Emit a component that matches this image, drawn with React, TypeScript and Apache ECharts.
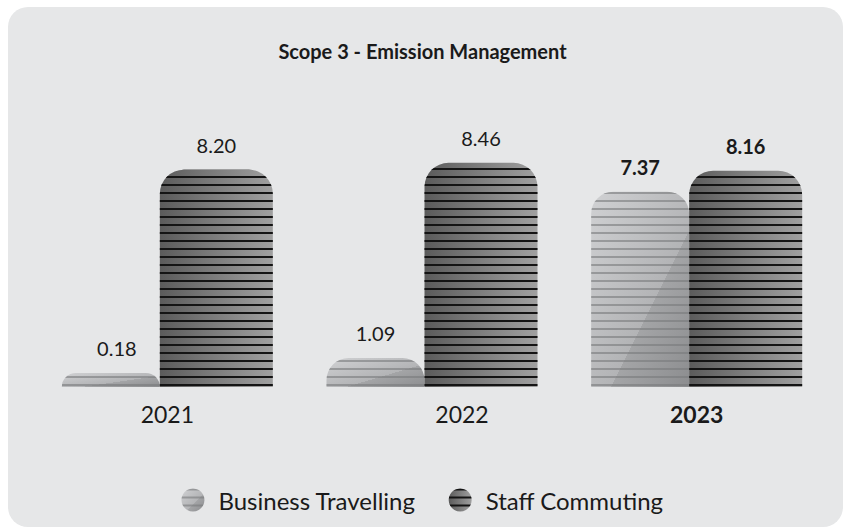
import React, { useEffect, useRef } from 'react';
import * as echarts from 'echarts';

const chartTitle = 'Scope 3 - Emission Management';
const categories = ['2021', '2022', '2023'];
const seriesNames = ['Business Travelling', 'Staff Commuting'];
const businessTravelling = [0.18, 1.09, 7.37];
const staffCommuting = [8.2, 8.46, 8.16];
const highlightedCategory = '2023';

const FONT = 'Lato, "Noto Sans", sans-serif';
const TEXT = '#1a1a1a';

export default function App() {
  const ref = useRef<HTMLDivElement>(null);

  useEffect(() => {
    if (!ref.current) return;
    const chart = echarts.init(ref.current, undefined, { renderer: 'svg' });

    const businessFill = {
      type: 'linear', x: 0, y: 0, x2: 1, y2: 1,
      colorStops: [
        { offset: 0, color: '#d0d1d3' },
        { offset: 0.6, color: '#b3b4b6' },
        { offset: 0.6, color: '#a4a5a7' },
        { offset: 1, color: '#8c8d8f' },
      ],
    };
    const staffFill = {
      type: 'linear', x: 0, y: 0, x2: 1, y2: 0,
      colorStops: [
        { offset: 0, color: '#5b5b5b' },
        { offset: 1, color: '#a0a0a0' },
      ],
    };

    const isHi = (i: number) => categories[i] === highlightedCategory;
    const valueLabel = {
      show: true,
      position: 'top',
      distance: 15,
      fontSize: 20,
      color: TEXT,
      fontFamily: FONT,
      formatter: (p: any) => Number(p.value).toFixed(2),
    };

    const labelShift = [0, 60, 0];

    chart.setOption({
      animation: false,
      backgroundColor: '#ffffff',
      graphic: [
        {
          type: 'rect',
          z: -10,
          silent: true,
          shape: { x: 8, y: 7, width: 835, height: 520, r: 20 },
          style: { fill: '#e6e7e8' },
        },
      ],
      title: {
        text: chartTitle,
        left: 'center',
        top: 36,
        textStyle: { fontSize: 20, fontWeight: 'bold', color: TEXT, fontFamily: FONT },
      },
      legend: {
        top: 483,
        left: 'center',
        icon: 'circle',
        itemWidth: 23,
        itemHeight: 23,
        itemGap: 33,
        textStyle: { fontSize: 24, color: TEXT, fontFamily: FONT, padding: [0, 0, 0, 9] },
        data: seriesNames,
      },
      grid: { left: 35, right: 16, top: 122, bottom: 141 },
      xAxis: {
        type: 'category',
        data: categories.map((c, i) => ({
          value: c,
          textStyle: {
            fontWeight: isHi(i) ? 'bold' : 'normal',
            padding: [0, 0, 0, labelShift[i]],
          },
        })),
        axisLine: { show: false },
        axisTick: { show: false },
        axisLabel: { fontSize: 23, color: TEXT, margin: 15, fontFamily: FONT },
      },
      yAxis: { type: 'value', min: 0, max: 10, show: false },
      series: [
        {
          name: seriesNames[0],
          type: 'bar',
          barWidth: 98,
          barGap: '0%',
          barMinHeight: 14,
          itemStyle: {
            color: businessFill,
            borderRadius: [22, 22, 0, 0],
            decal: {
              symbol: 'rect',
              symbolSize: 1,
              dashArrayX: [1, 0],
              dashArrayY: [2, 6],
              rotation: 0,
              color: 'rgba(120,121,123,0.6)',
            },
          },
          label: valueLabel,
          data: businessTravelling.map((v, i) => ({
            value: v,
            label: {
              fontWeight: isHi(i) ? 'bold' : 'normal',
              offset: i === 0 ? [6, 0] : [0, 0],
            },
          })),
        },
        {
          name: seriesNames[1],
          type: 'bar',
          barWidth: 113,
          barGap: '0%',
          itemStyle: {
            color: staffFill,
            borderRadius: [24, 24, 0, 0],
            decal: {
              symbol: 'rect',
              symbolSize: 1,
              dashArrayX: [1, 0],
              dashArrayY: [2, 6],
              rotation: 0,
              color: '#141414',
            },
          },
          label: valueLabel,
          data: staffCommuting.map((v, i) => ({
            value: v,
            label: { fontWeight: isHi(i) ? 'bold' : 'normal' },
          })),
        },
      ],
    });

    return () => chart.dispose();
  }, []);

  return (
    <div
      ref={ref}
      style={{ position: 'fixed', left: 0, top: 0, width: 845, height: 528, background: '#fff' }}
    />
  );
}
